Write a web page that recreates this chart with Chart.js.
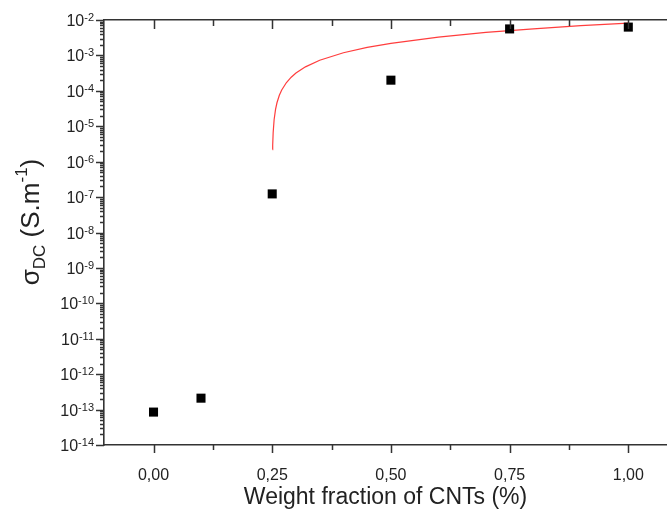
<!DOCTYPE html>
<html>
<head>
<meta charset="utf-8">
<script src="https://cdn.jsdelivr.net/npm/chart.js@4.4.1/dist/chart.umd.min.js"></script>
<style>
  html, body { margin: 0; padding: 0; background: #fff; overflow: hidden; }
  #grafico { display: block; }
</style>
</head>
<body>
<canvas id="grafico" width="667" height="517"></canvas>
<script>
// puntos medidos (fraccion en peso de CNT, conductividad DC)
const fraccion = [0.0, 0.1, 0.25, 0.5, 0.75, 1.0];
const sigmaDC = [8.5e-14, 2.1e-13, 1.23e-7, 2.0e-4, 5.6e-3, 6.3e-3];

// curva de ajuste (percolacion)
const ajusteX = [0.2507, 0.251, 0.252, 0.254, 0.257, 0.26, 0.265, 0.27, 0.28, 0.29, 0.30,
  0.32, 0.35, 0.40, 0.45, 0.50, 0.60, 0.70, 0.80, 0.90, 1.00];
const ajusteY = [2.2e-6, 2.9e-6, 6.7e-6, 1.53e-5, 3.0e-5, 4.6e-5, 7.5e-5, 1.06e-4, 1.72e-4, 2.43e-4, 3.18e-4,
  4.76e-4, 7.3e-4, 1.19e-3, 1.68e-3, 2.2e-3, 3.29e-3, 4.45e-3, 5.65e-3, 6.9e-3, 8.2e-3];

// ticks
const xTicks = [0, 0.125, 0.25, 0.375, 0.5, 0.625, 0.75, 0.875, 1.0];
const yExponentes = [-14, -13, -12, -11, -10, -9, -8, -7, -6, -5, -4, -3, -2];

const fuente = '"Liberation Sans", Arial, sans-serif';
const colorEje = "#333";

const puntos = fraccion.map((v, i) => ({ x: v, y: sigmaDC[i] }));
const curva = ajusteX.map((v, i) => ({ x: v, y: ajusteY[i] }));

function esMayor(v) {
  return Math.abs(v / 0.25 - Math.round(v / 0.25)) < 1e-6;
}

// marcas de los ejes + etiquetas del eje y con exponente
const marcasEjes = {
  id: "marcasEjes",
  afterDraw(chart) {
    const ctx = chart.ctx;
    const a = chart.chartArea;
    const x = chart.scales.x;
    const y = chart.scales.y;
    ctx.save();
    ctx.strokeStyle = colorEje;
    ctx.lineWidth = 1.5;
    ctx.beginPath();
    xTicks.forEach((v) => {
      const px = Math.round(x.getPixelForValue(v)) + 0.5;
      const len = esMayor(v) ? 8 : 5;
      // abajo, hacia afuera
      ctx.moveTo(px, a.bottom);
      ctx.lineTo(px, a.bottom + len);
      // arriba, hacia adentro
      ctx.moveTo(px, a.top);
      ctx.lineTo(px, a.top + len + 1);
    });
    yExponentes.forEach((e) => {
      const py = Math.round(y.getPixelForValue(Math.pow(10, e))) + 0.5;
      ctx.moveTo(a.left, py);
      ctx.lineTo(a.left - 8, py);
      if (e < -2) {
        for (let k = 2; k <= 9; k++) {
          const pm = Math.round(y.getPixelForValue(k * Math.pow(10, e))) + 0.5;
          ctx.moveTo(a.left, pm);
          ctx.lineTo(a.left - 4, pm);
        }
      }
    });
    ctx.stroke();

    // etiquetas 10^n
    ctx.fillStyle = "#222";
    ctx.textBaseline = "alphabetic";
    yExponentes.forEach((e) => {
      const py = y.getPixelForValue(Math.pow(10, e));
      const exp = String(e);
      ctx.font = "11px " + fuente;
      const wExp = ctx.measureText(exp).width;
      const derecha = a.left - 10;
      ctx.textAlign = "right";
      ctx.fillText(exp, derecha, py + 1);
      ctx.font = "16px " + fuente;
      ctx.fillText("10", derecha - wExp, py + 6);
    });

    // titulo del eje y: sigma_DC (S.m^-1)
    const partes = [
      { t: "\u03C3", f: 26, dy: 9 },
      { t: "DC", f: 17, dy: 15 },
      { t: " (S.m", f: 26, dy: 9 },
      { t: "-1", f: 17, dy: -3 },
      { t: ")", f: 26, dy: 9 },
    ];
    let total = 0;
    partes.forEach((p) => {
      ctx.font = p.f + "px " + fuente;
      p.w = ctx.measureText(p.t).width;
      total += p.w;
    });
    ctx.translate(30, 222);
    ctx.rotate(-Math.PI / 2);
    ctx.textAlign = "left";
    let cx = -total / 2;
    partes.forEach((p) => {
      ctx.font = p.f + "px " + fuente;
      ctx.fillText(p.t, cx, p.dy);
      cx += p.w;
    });
    ctx.restore();
  },
};

function sinRelleno(s) {
  s.paddingLeft = 0;
  s.paddingRight = 0;
}

const ctxGrafico = document.getElementById("grafico").getContext("2d");

const miGrafico = new Chart(ctxGrafico, {
  type: "scatter",
  data: {
    datasets: [
      {
        label: "Datos",
        data: puntos,
        pointStyle: "rect",
        pointRadius: 6.4,
        pointBackgroundColor: "#000",
        pointBorderColor: "#000",
        pointBorderWidth: 0,
      },
      {
        label: "Ajuste",
        data: curva,
        showLine: true,
        pointRadius: 0,
        borderColor: "rgba(255, 40, 40, 0.9)",
        borderWidth: 1.2,
        tension: 0,
      },
    ],
  },
  options: {
    responsive: false,
    animation: false,
    devicePixelRatio: 1,
    layout: { autoPadding: false, padding: { top: 20, right: 0, bottom: 0, left: 0 } },
    plugins: {
      legend: { display: false },
      tooltip: { enabled: false },
    },
    scales: {
      x: {
        type: "linear",
        position: "bottom",
        min: -0.1043,
        max: 1.0815,
        afterBuildTicks: (s) => {
          s.ticks = xTicks.map((v) => ({ value: v }));
        },
        afterFit: (s) => {
          s.height = 72;
          sinRelleno(s);
        },
        ticks: {
          padding: 21,
          color: "#222",
          font: { family: fuente, size: 16 },
          maxRotation: 0,
          autoSkip: false,
          callback: (v) => (esMayor(v) ? v.toFixed(2).replace(".", ",") : ""),
        },
        grid: { display: true, drawOnChartArea: false, drawTicks: false },
        border: { color: colorEje, width: 1.6 },
        title: {
          display: true,
          text: "Weight fraction of CNTs (%)",
          color: "#222",
          font: { family: fuente, size: 23 },
          padding: { top: 0, bottom: 6 },
        },
      },
      x2: {
        type: "linear",
        position: "top",
        min: -0.1043,
        max: 1.0815,
        afterFit: (s) => {
          s.height = 0;
          sinRelleno(s);
        },
        ticks: { display: false },
        grid: { display: true, drawOnChartArea: false, drawTicks: false },
        border: { color: colorEje, width: 1.6 },
      },
      y: {
        type: "logarithmic",
        position: "left",
        min: 1e-14,
        max: 1e-2,
        afterBuildTicks: (s) => {
          s.ticks = yExponentes.map((e) => ({ value: Math.pow(10, e) }));
        },
        afterFit: (s) => {
          s.width = 104;
        },
        ticks: { display: false },
        grid: { display: true, drawOnChartArea: false, drawTicks: false },
        border: { color: colorEje, width: 1.6 },
      },
    },
  },
  plugins: [marcasEjes],
});
</script>
</body>
</html>
